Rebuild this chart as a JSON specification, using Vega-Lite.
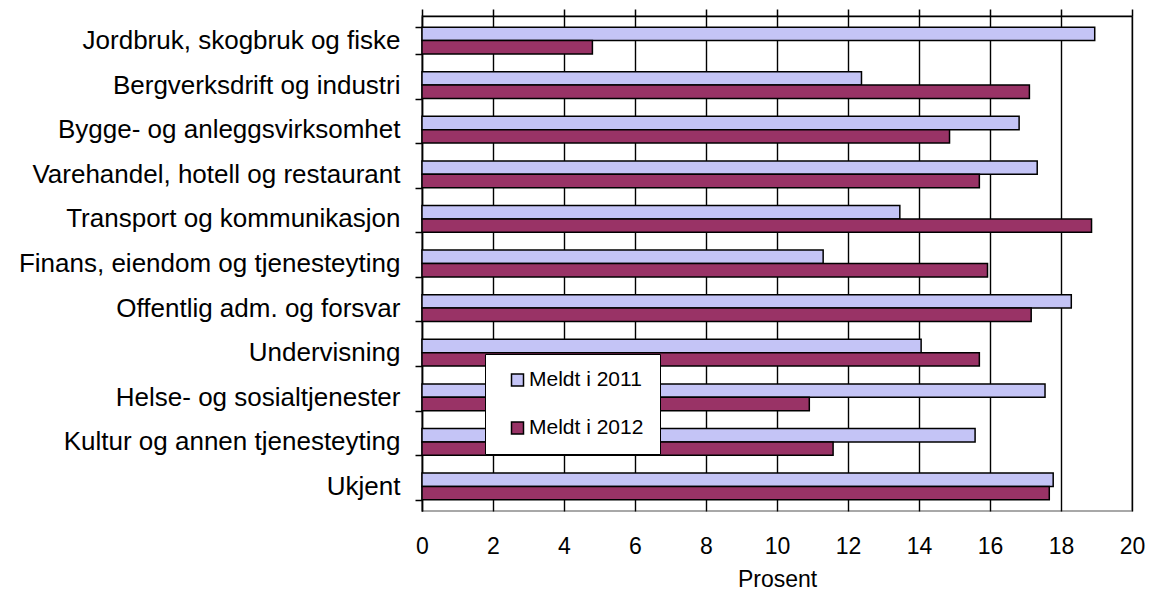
{
  "$schema": "https://vega.github.io/schema/vega-lite/v6.json",
  "width": 710,
  "height": 495,
  "autosize": {"type": "none"},
  "padding": {"left": 422, "top": 16, "right": 20, "bottom": 84},
  "background": "white",
  "config": {
    "font": "Liberation Sans",
    "view": {"stroke": "#8c8c8c", "strokeWidth": 1.5}
  },
  "layer": [
    {
      "data": {
        "values": [
          {"naering": "Jordbruk, skogbruk og fiske", "serie": "Meldt i 2011", "prosent": 18.95},
          {"naering": "Jordbruk, skogbruk og fiske", "serie": "Meldt i 2012", "prosent": 4.8},
          {"naering": "Bergverksdrift og industri", "serie": "Meldt i 2011", "prosent": 12.38},
          {"naering": "Bergverksdrift og industri", "serie": "Meldt i 2012", "prosent": 17.11},
          {"naering": "Bygge- og anleggsvirksomhet", "serie": "Meldt i 2011", "prosent": 16.82},
          {"naering": "Bygge- og anleggsvirksomhet", "serie": "Meldt i 2012", "prosent": 14.86},
          {"naering": "Varehandel, hotell og restaurant", "serie": "Meldt i 2011", "prosent": 17.33},
          {"naering": "Varehandel, hotell og restaurant", "serie": "Meldt i 2012", "prosent": 15.7},
          {"naering": "Transport og kommunikasjon", "serie": "Meldt i 2011", "prosent": 13.46},
          {"naering": "Transport og kommunikasjon", "serie": "Meldt i 2012", "prosent": 18.86},
          {"naering": "Finans, eiendom og tjenesteyting", "serie": "Meldt i 2011", "prosent": 11.3},
          {"naering": "Finans, eiendom og tjenesteyting", "serie": "Meldt i 2012", "prosent": 15.93},
          {"naering": "Offentlig adm. og forsvar", "serie": "Meldt i 2011", "prosent": 18.29},
          {"naering": "Offentlig adm. og forsvar", "serie": "Meldt i 2012", "prosent": 17.16},
          {"naering": "Undervisning", "serie": "Meldt i 2011", "prosent": 14.06},
          {"naering": "Undervisning", "serie": "Meldt i 2012", "prosent": 15.7},
          {"naering": "Helse- og sosialtjenester", "serie": "Meldt i 2011", "prosent": 17.55},
          {"naering": "Helse- og sosialtjenester", "serie": "Meldt i 2012", "prosent": 10.91},
          {"naering": "Kultur og annen tjenesteyting", "serie": "Meldt i 2011", "prosent": 15.58},
          {"naering": "Kultur og annen tjenesteyting", "serie": "Meldt i 2012", "prosent": 11.58},
          {"naering": "Ukjent", "serie": "Meldt i 2011", "prosent": 17.78},
          {"naering": "Ukjent", "serie": "Meldt i 2012", "prosent": 17.67}
        ]
      },
      "mark": {"type": "bar", "stroke": "black", "strokeWidth": 1.5},
      "encoding": {
        "y": {
          "field": "naering",
          "type": "nominal",
          "sort": null,
          "scale": {"paddingInner": 0.4, "paddingOuter": 0.25},
          "axis": {
            "title": null,
            "tickBand": "extent",
            "tickSize": 7,
            "tickColor": "black",
            "tickWidth": 1.5,
            "domainColor": "black",
            "domainWidth": 1.5,
            "labelFontSize": 26,
            "labelColor": "black",
            "labelPadding": 15,
            "labelLimit": 420,
            "grid": false
          }
        },
        "yOffset": {"field": "serie", "type": "nominal", "sort": ["Meldt i 2011", "Meldt i 2012"]},
        "x": {
          "field": "prosent",
          "type": "quantitative",
          "scale": {"domain": [0, 20], "nice": false},
          "axis": {
            "orient": "bottom",
            "title": "Prosent",
            "values": [0, 2, 4, 6, 8, 10, 12, 14, 16, 18, 20],
            "grid": true,
            "gridColor": "black",
            "gridWidth": 1.4,
            "domain": false,
            "ticks": false,
            "tickSize": 0,
            "labelFontSize": 23,
            "labelPadding": 24,
            "labelColor": "black",
            "labelFlush": false,
            "titleFontSize": 23,
            "titleFontWeight": "normal",
            "titlePadding": 10,
            "titleColor": "black"
          }
        },
        "color": {
          "field": "serie",
          "type": "nominal",
          "scale": {"domain": ["Meldt i 2011", "Meldt i 2012"], "range": ["#C4C4F6", "#993366"]},
          "legend": {
            "title": null,
            "orient": "none",
            "legendX": 63,
            "legendY": 338,
            "fillColor": "white",
            "strokeColor": "black",
            "padding": 16,
            "symbolType": "square",
            "symbolSize": 144,
            "symbolStrokeColor": "black",
            "symbolStrokeWidth": 1.5,
            "symbolOffset": 6,
            "labelFontSize": 21,
            "labelColor": "black",
            "labelOffset": 1,
            "rowPadding": 27,
            "clipHeight": 20
          }
        }
      }
    },
    {
      "data": {"values": [{"v": 0}]},
      "mark": {"type": "rule", "strokeOpacity": 0},
      "encoding": {
        "x": {
          "field": "v",
          "type": "quantitative",
          "axis": {
            "orient": "top",
            "title": null,
            "labels": false,
            "grid": false,
            "domainColor": "black",
            "domainWidth": 1.5,
            "tickColor": "black",
            "tickSize": 7,
            "tickWidth": 1.5,
            "values": [0, 2, 4, 6, 8, 10, 12, 14, 16, 18, 20]
          }
        }
      }
    }
  ],
  "resolve": {"axis": {"x": "independent"}}
}
